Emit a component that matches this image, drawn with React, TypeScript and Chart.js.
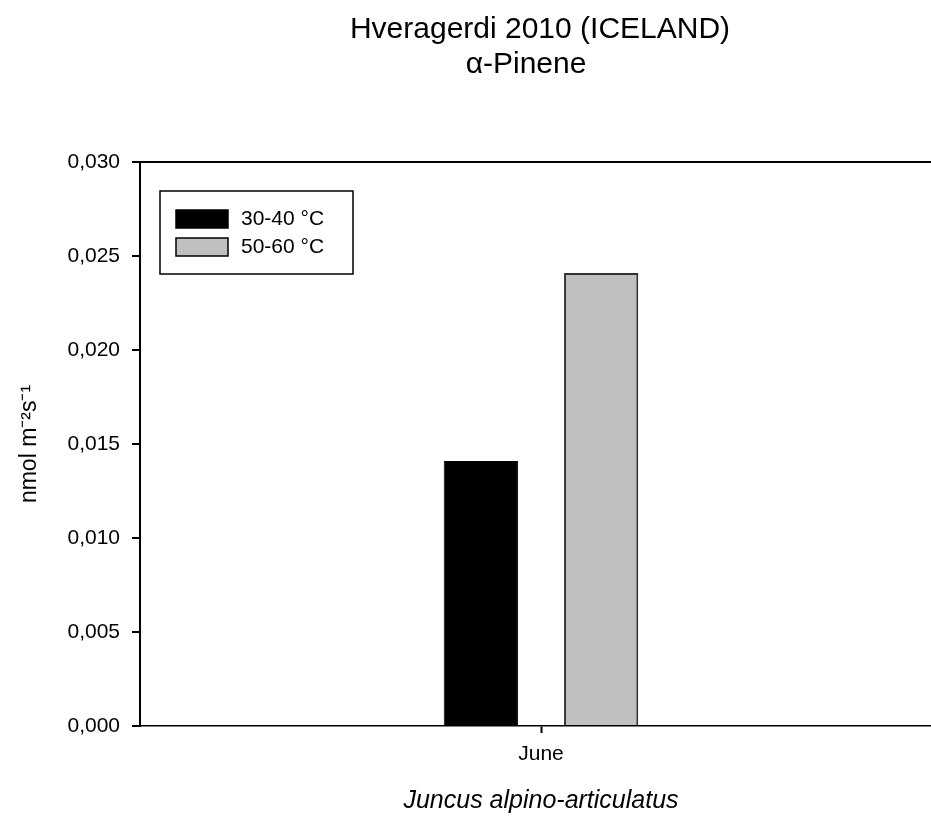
import React, { useEffect, useRef } from 'react';
import { Chart, registerables, Plugin } from 'chart.js';

Chart.register(...registerables);

// data
const months = ['June'];
const seriesLabels = ['30-40 °C', '50-60 °C'];
const lowTemp = [0.0141];
const highTemp = [0.0241];
const yTicks = [0, 0.005, 0.01, 0.015, 0.02, 0.025, 0.03];
const titleLines = ['Hveragerdi 2010 (ICELAND)', 'α-Pinene'];
const yTitle = 'nmol m⁻²s⁻¹';
const xTitle = 'Juncus alpino-articulatus';

const FONT = '"Liberation Sans", Arial, Helvetica, sans-serif';

// two line title centred over the plot area
const titlePlugin: Plugin<'bar'> = {
    id: 'twoLineTitle',
    afterDraw(chart) {
        const { ctx, chartArea } = chart;
        const cx = (chartArea.left + chartArea.right) / 2;
        ctx.save();
        ctx.fillStyle = '#000';
        ctx.font = `30px ${FONT}`;
        ctx.textAlign = 'center';
        ctx.textBaseline = 'alphabetic';
        ctx.fillText(titleLines[0], cx - 1, 38);
        ctx.fillText(titleLines[1], cx - 15, 73);
        ctx.restore();
    },
};

// boxed legend inside the top-left corner of the plot
const insetLegend: Plugin<'bar'> = {
    id: 'insetLegend',
    afterDraw(chart) {
        const { ctx, chartArea } = chart;
        const x = chartArea.left + 20;
        const y = chartArea.top + 29;
        ctx.save();
        ctx.lineWidth = 1.5;
        ctx.strokeStyle = '#000';
        ctx.strokeRect(x, y, 193, 83);
        chart.data.datasets.forEach((ds, i) => {
            const sy = y + 19 + i * 28;
            ctx.fillStyle = ds.backgroundColor as string;
            ctx.fillRect(x + 16, sy, 52, 18);
            ctx.strokeStyle = '#000';
            ctx.lineWidth = 1.5;
            ctx.strokeRect(x + 16, sy, 52, 18);
            ctx.fillStyle = '#000';
            ctx.font = `21px ${FONT}`;
            ctx.textAlign = 'left';
            ctx.textBaseline = 'middle';
            ctx.fillText(ds.label as string, x + 81, sy + 9);
        });
        ctx.restore();
    },
};

const PineneChart: React.FC = () => {
    const chartRef = useRef<HTMLCanvasElement | null>(null);
    const chartInstance = useRef<Chart | null>(null);

    useEffect(() => {
        if (!chartRef.current) return;
        const ctx = chartRef.current.getContext('2d');
        if (!ctx) return;

        if (chartInstance.current) {
            chartInstance.current.destroy();
        }

        chartInstance.current = new Chart(ctx, {
            type: 'bar',
            data: {
                labels: months,
                datasets: [
                    {
                        label: seriesLabels[0],
                        data: lowTemp,
                        backgroundColor: '#000000',
                        borderColor: '#000000',
                        borderWidth: 1,
                        categoryPercentage: 0.3,
                        barPercentage: 0.617,
                    },
                    {
                        label: seriesLabels[1],
                        data: highTemp,
                        backgroundColor: '#c0c0c0',
                        borderColor: '#333333',
                        borderWidth: 2,
                        categoryPercentage: 0.3,
                        barPercentage: 0.617,
                    },
                ],
            },
            options: {
                responsive: false,
                maintainAspectRatio: false,
                animation: false,
                layout: {
                    padding: { top: 162, right: 8, bottom: 0, left: 0 },
                },
                plugins: {
                    legend: { display: false },
                    tooltip: { enabled: false },
                    title: { display: false },
                },
                scales: {
                    x: {
                        offset: true,
                        afterFit: (scale) => {
                            scale.height = 90;
                        },
                        grid: {
                            display: true,
                            offset: false,
                            drawOnChartArea: false,
                            drawTicks: true,
                            tickLength: 7,
                            tickColor: '#000',
                            tickWidth: 2,
                        },
                        border: { display: true, color: '#000', width: 1.5 },
                        ticks: {
                            color: '#000',
                            padding: 9,
                            font: { family: FONT, size: 21 },
                        },
                        title: {
                            display: true,
                            text: xTitle,
                            color: '#000',
                            padding: { top: 0, bottom: 0 },
                            font: { family: FONT, size: 25, style: 'italic' },
                        },
                    },
                    y: {
                        min: 0,
                        max: 0.03,
                        afterFit: (scale) => {
                            scale.width = 140;
                        },
                        afterBuildTicks: (scale) => {
                            scale.ticks = yTicks.map((v) => ({ value: v }));
                        },
                        grid: {
                            display: true,
                            drawOnChartArea: true,
                            drawTicks: true,
                            tickLength: 8,
                            tickColor: '#000',
                            tickWidth: 2,
                            // only the top line is drawn across the plot (frame top)
                            color: (c) => (c.tick && c.tick.value >= 0.0299 ? '#000' : 'rgba(0,0,0,0)'),
                            lineWidth: 2,
                        },
                        border: { display: true, color: '#000', width: 2 },
                        ticks: {
                            color: '#000',
                            padding: 12,
                            font: { family: FONT, size: 21 },
                            callback: (v) => Number(v).toFixed(3).replace('.', ','),
                        },
                        title: {
                            display: true,
                            text: yTitle,
                            color: '#000',
                            padding: { top: 16, bottom: 0 },
                            font: { family: FONT, size: 23 },
                        },
                    },
                },
            },
            plugins: [titlePlugin, insetLegend],
        });

        return () => {
            if (chartInstance.current) {
                chartInstance.current.destroy();
                chartInstance.current = null;
            }
        };
    }, []);

    return <canvas ref={chartRef} width={950} height={816} style={{ width: 950, height: 816, display: 'block' }}></canvas>;
};

const App: React.FC = () => {
    return (
        <div style={{ position: 'fixed', top: 0, left: 0, width: 931, height: 816, overflow: 'hidden', background: '#fff' }}>
            <PineneChart />
        </div>
    );
};

export default App;
